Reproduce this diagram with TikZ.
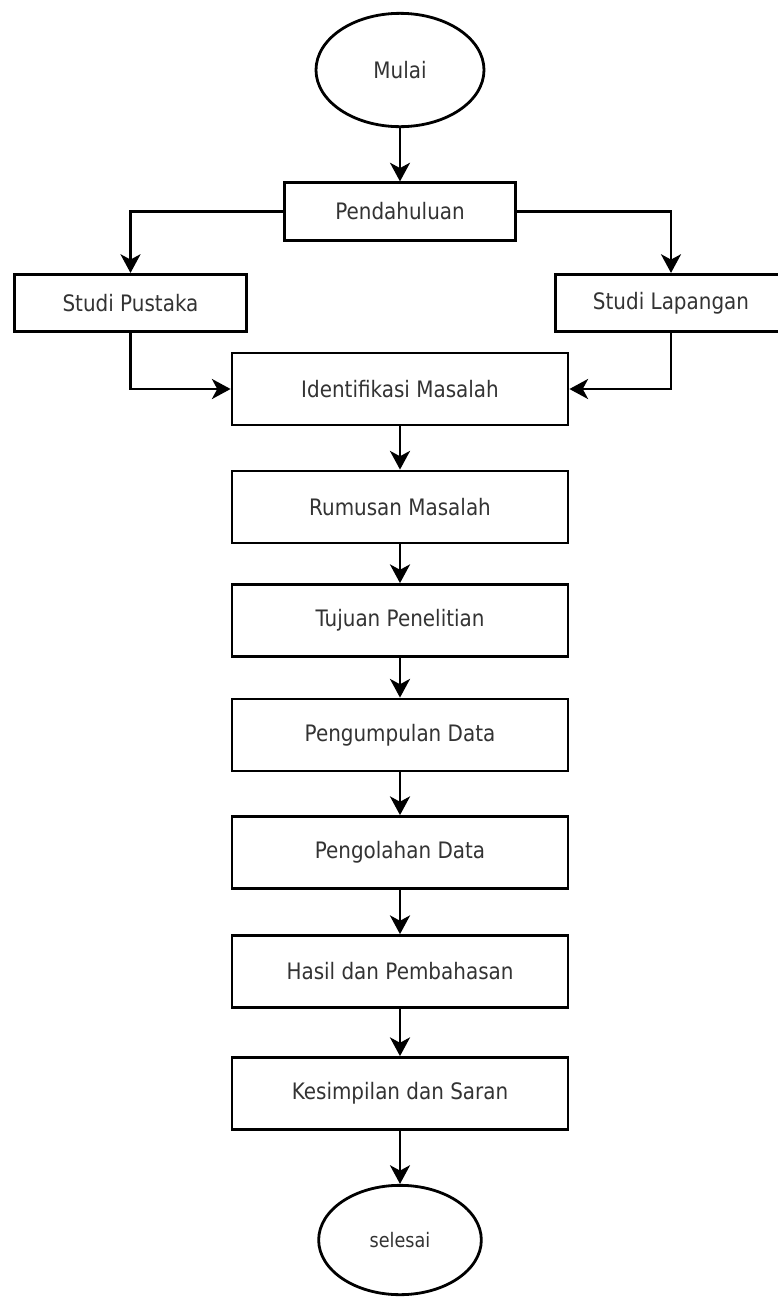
\documentclass[tikz,border=0pt]{standalone}
\usepackage{fontspec}
\setmainfont{DejaVu Sans}[FakeStretch=0.88]
\usetikzlibrary{arrows.meta,shapes.geometric}

\tikzset{
  proses/.style={draw, line width=2.1pt, rectangle, minimum width=252pt, minimum height=54pt, inner sep=0.75pt, text=black!80, font=\fontsize{17}{20}\selectfont},
  kecil/.style={proses, minimum width=173.5pt, minimum height=43pt},
  terminal/.style={draw, line width=2.1pt, ellipse, minimum width=126pt, minimum height=85pt, inner sep=0.75pt, text=black!80, font=\fontsize{17}{20}\selectfont},
  panah/.style={line width=2.1pt, -{Stealth[length=14pt,width=15pt,inset=4pt]}}
}

\begin{document}
\begin{tikzpicture}[x=0.75pt,y=0.75pt,yscale=-1,xscale=1]
\useasboundingbox (0,0) rectangle (778,1297);

%Shape: Ellipse
\node [terminal] (mulai) at (400,70) {Mulai};
%Shape: Rectangle
\node [kecil] (pendahuluan) at (400,211.5) {Pendahuluan};
%Shape: Rectangle
\node [kecil] (pustaka) at (130.5,303) {Studi Pustaka};
%Shape: Rectangle
\node [kecil] (lapangan) at (671,303) {Studi Lapangan};
%Shape: Rectangle
\node [proses] (identifikasi) at (400,389) {Identifikasi Masalah};
%Shape: Rectangle
\node [proses] (rumusan) at (400,507) {Rumusan Masalah};
%Shape: Rectangle
\node [proses] (tujuan) at (400,620.5) {Tujuan Penelitian};
%Shape: Rectangle
\node [proses] (kumpul) at (400,735) {Pengumpulan Data};
%Shape: Rectangle
\node [proses] (olah) at (400,852.5) {Pengolahan Data};
%Shape: Rectangle
\node [proses] (hasil) at (400,971.5) {Hasil dan Pembahasan};
%Shape: Rectangle
\node [proses] (simpulan) at (400,1093.5) {Kesimpilan dan Saran};
%Shape: Ellipse
\node [terminal, minimum width=122pt, minimum height=82pt, font=\fontsize{15}{18}\selectfont] (selesai) at (400,1240) {selesai};

%Straight Lines
\draw [panah] (mulai) -- (pendahuluan);
%Straight Lines
\draw [panah] (pendahuluan.west) -| (pustaka.north);
%Straight Lines
\draw [panah] (pendahuluan.east) -| (lapangan.north);
%Straight Lines
\draw [panah] (pustaka.south) |- (identifikasi.west);
%Straight Lines
\draw [panah] (lapangan.south) |- (identifikasi.east);
%Straight Lines
\draw [panah] (identifikasi) -- (rumusan);
%Straight Lines
\draw [panah] (rumusan) -- (tujuan);
%Straight Lines
\draw [panah] (tujuan) -- (kumpul);
%Straight Lines
\draw [panah] (kumpul) -- (olah);
%Straight Lines
\draw [panah] (olah) -- (hasil);
%Straight Lines
\draw [panah] (hasil) -- (simpulan);
%Straight Lines
\draw [panah] (simpulan) -- (selesai);

\end{tikzpicture}
\end{document}
